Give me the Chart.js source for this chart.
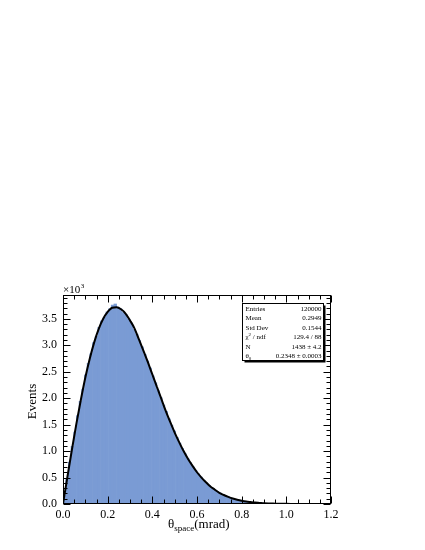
<!DOCTYPE html>
<html>
<head>
<meta charset="utf-8">
<script src="https://cdn.jsdelivr.net/npm/chart.js@4.4.0/dist/chart.umd.min.js"></script>
<style>
  html, body { margin: 0; padding: 0; background: #fff; }
  #wrap { width: 425px; height: 550px; }
</style>
</head>
<body>
<div id="wrap"><canvas id="hist"></canvas></div>
<script>
// histogram: 100 bins from 0 to 1.2 mrad, contents in units of 10^3 events
const binStart = 0.0;
const binWidth = 0.012;
const counts = [
  0.16, 0.47, 0.79, 1.09, 1.36, 1.67, 1.94, 2.17, 2.44, 2.66,
  2.84, 3.05, 3.17, 3.34, 3.46, 3.53, 3.63, 3.69, 3.76, 3.78,
  3.72, 3.69, 3.62, 3.58, 3.49, 3.42, 3.30, 3.21, 3.09, 2.97,
  2.83, 2.70, 2.57, 2.42, 2.29, 2.14, 2.01, 1.87, 1.75, 1.61,
  1.49, 1.38, 1.26, 1.15, 1.05, 0.95, 0.86, 0.78, 0.70, 0.63,
  0.57, 0.51, 0.45, 0.40, 0.35, 0.31, 0.275, 0.24, 0.21, 0.185,
  0.16, 0.14, 0.12, 0.10, 0.088, 0.076, 0.065, 0.055, 0.047, 0.040,
  0.034, 0.028, 0.024, 0.020, 0.016, 0.013, 0.011, 0.009, 0.007, 0.006,
  0.005, 0.004, 0.003, 0.003, 0.002, 0.002, 0.001, 0.001, 0.001, 0.001,
  0, 0, 0, 0, 0, 0, 0, 0, 0, 0
];

// fit curve
const fitX = [
  0.00, 0.02, 0.04, 0.06, 0.08, 0.10, 0.12, 0.14, 0.16, 0.18,
  0.20, 0.22, 0.24, 0.26, 0.28, 0.30, 0.32, 0.34, 0.36, 0.38,
  0.40, 0.42, 0.44, 0.46, 0.48, 0.50, 0.52, 0.54, 0.56, 0.58,
  0.60, 0.62, 0.64, 0.66, 0.68, 0.70, 0.72, 0.74, 0.76, 0.78,
  0.80, 0.82, 0.84, 0.86, 0.88, 0.90, 0.92, 0.94, 0.96, 0.98,
  1.00, 1.02, 1.04, 1.06, 1.08, 1.10, 1.12, 1.14, 1.16, 1.18, 1.20
];
const fitY = [
  0.00, 0.52, 1.03, 1.52, 1.97, 2.39, 2.75, 3.06, 3.31, 3.50,
  3.63, 3.71, 3.72, 3.68, 3.60, 3.47, 3.32, 3.11, 2.90, 2.68,
  2.45, 2.22, 1.99, 1.76, 1.55, 1.35, 1.17, 1.00, 0.85, 0.72,
  0.60, 0.50, 0.41, 0.33, 0.27, 0.21, 0.17, 0.135, 0.105, 0.082,
  0.063, 0.048, 0.037, 0.027, 0.021, 0.015, 0.011, 0.008, 0.006, 0.004,
  0.003, 0.002, 0.0013, 0.0009, 0.0006, 0.0004, 0.0003, 0.0002, 0.0001, 0.0001, 0
];

const statLabels = ["Entries", "Mean", "Std Dev", "χ² / ndf", "N", "θ0"];
const statValues = ["120000", "0.2949", "0.1544", "129.4 / 88", "1438 ± 4.2", "0.2348 ± 0.0003"];

const serif = "'Liberation Serif', 'DejaVu Serif', serif";

// ROOT-like frame: box, inner ticks on all sides, titles and the stats box
const rootFrame = {
  id: "rootFrame",
  afterDraw(chart) {
    const ctx = chart.ctx;
    const a = chart.chartArea;
    const xs = chart.scales.x, ys = chart.scales.y;
    const L = Math.round(a.left) + 0.5, R = Math.round(a.right) - 0.5;
    const T = Math.round(a.top) + 0.5, B = Math.round(a.bottom) - 0.5;
    ctx.save();
    ctx.strokeStyle = "#000";
    ctx.lineWidth = 1;
    ctx.strokeRect(L, T, R - L, B - T);

    ctx.beginPath();
    for (let k = 0; k <= 24; k++) {
      const v = k * 0.05;
      const px = Math.round(xs.getPixelForValue(v)) + 0.5;
      const len = k % 4 === 0 ? 7 : 4;
      ctx.moveTo(px, B); ctx.lineTo(px, B - len);
      ctx.moveTo(px, T); ctx.lineTo(px, T + len);
    }
    for (let k = 0; k <= 39; k++) {
      const v = k * 0.1;
      const py = Math.round(ys.getPixelForValue(v)) + 0.5;
      const len = k % 5 === 0 ? 7 : 4;
      ctx.moveTo(L, py); ctx.lineTo(L + len, py);
      ctx.moveTo(R, py); ctx.lineTo(R - len, py);
    }
    ctx.stroke();

    ctx.fillStyle = "#000";
    // x10^3 exponent
    ctx.textBaseline = "alphabetic";
    ctx.textAlign = "left";
    ctx.font = "11px " + serif;
    ctx.fillText("×10", a.left, a.top - 2);
    const w10 = ctx.measureText("×10").width;
    ctx.font = "7px " + serif;
    ctx.fillText("3", a.left + w10 + 0.5, a.top - 7);

    // y title
    ctx.save();
    ctx.translate(36, (a.top + a.bottom) / 2 + 2);
    ctx.rotate(-Math.PI / 2);
    ctx.textAlign = "center";
    ctx.font = "13px " + serif;
    ctx.fillText("Events", 0, 0);
    ctx.restore();

    // x title with subscript
    ctx.font = "13px " + serif;
    const t1 = "θ", t3 = "(mrad)";
    const w1 = ctx.measureText(t1).width;
    ctx.font = "9px " + serif;
    const w2 = ctx.measureText("space").width;
    const x0 = 168;
    const yb = 528;
    ctx.font = "13px " + serif;
    ctx.fillText(t1, x0, yb);
    ctx.font = "9px " + serif;
    ctx.fillText("space", x0 + w1, yb + 3);
    ctx.font = "13px " + serif;
    ctx.fillText(t3, x0 + w1 + w2, yb);

    // stats box
    const bx = 242.5, by = 303.5, bw = 81, bh = 57;
    ctx.fillStyle = "#000";
    ctx.fillRect(bx + 2, by + 2, bw, bh);
    ctx.fillStyle = "#fff";
    ctx.fillRect(bx, by, bw, bh);
    ctx.strokeRect(bx, by, bw, bh);
    ctx.fillStyle = "#000";
    ctx.textBaseline = "middle";
    const rowH = bh / statLabels.length;
    statLabels.forEach((lab, i) => {
      const cy = by + rowH * (i + 0.5) + 0.5;
      ctx.textAlign = "left";
      ctx.font = "7px " + serif;
      if (lab === "χ² / ndf") {
        ctx.fillText("χ", bx + 3, cy);
        const wc = ctx.measureText("χ").width;
        ctx.font = "5px " + serif;
        ctx.fillText("2", bx + 3 + wc, cy - 2.5);
        ctx.font = "7px " + serif;
        ctx.fillText(" / ndf", bx + 3 + wc + 2.5, cy);
      } else if (lab === "θ0") {
        ctx.fillText("θ", bx + 3, cy);
        const wt = ctx.measureText("θ").width;
        ctx.font = "5px " + serif;
        ctx.fillText("0", bx + 3 + wt, cy + 2.5);
      } else {
        ctx.fillText(lab, bx + 3, cy);
      }
      ctx.font = "7px " + serif;
      ctx.textAlign = "right";
      ctx.fillText(statValues[i], bx + bw - 2, cy);
    });
    ctx.restore();
  }
};

const histData = counts.map((c, i) => ({ x: binStart + binWidth * (i + 0.5), y: c }));
const fitData = fitX.map((x, i) => ({ x: x, y: fitY[i] }));

new Chart(document.getElementById("hist").getContext("2d"), {
  data: {
    datasets: [
      {
        type: "line",
        label: "fit",
        data: fitData,
        borderColor: "#000",
        borderWidth: 2,
        pointRadius: 0,
        cubicInterpolationMode: "monotone",
        fill: false,
        order: 1,
      },
      {
        type: "bar",
        label: "theta_space",
        data: histData,
        backgroundColor: "#7a9bd4",
        borderWidth: 0,
        barPercentage: 1.0,
        categoryPercentage: 1.0,
        grouped: false,
        order: 2,
      },
    ],
  },
  options: {
    responsive: true,
    maintainAspectRatio: false,
    animation: false,
    layout: { padding: { left: 0, right: 94, top: 295, bottom: 0 } },
    plugins: {
      legend: { display: false },
      tooltip: { enabled: false },
    },
    scales: {
      x: {
        type: "linear",
        offset: false,
        min: 0,
        max: 1.2,
        grid: { display: false, drawTicks: false, offset: false },
        border: { display: false },
        ticks: {
          stepSize: 0.2,
          padding: 4,
          color: "#000",
          font: { family: serif, size: 12 },
          callback: (v) => v.toFixed(1),
        },
        afterFit: (s) => { s.height = 46; },
      },
      y: {
        type: "linear",
        min: 0,
        max: 3.95,
        grid: { display: false, drawTicks: false },
        border: { display: false },
        ticks: {
          stepSize: 0.5,
          includeBounds: false,
          padding: 6,
          color: "#000",
          font: { family: serif, size: 12 },
          callback: (v) => v.toFixed(1),
        },
        afterFit: (s) => { s.width = 63; },
      },
    },
  },
  plugins: [rootFrame],
});
</script>
</body>
</html>
